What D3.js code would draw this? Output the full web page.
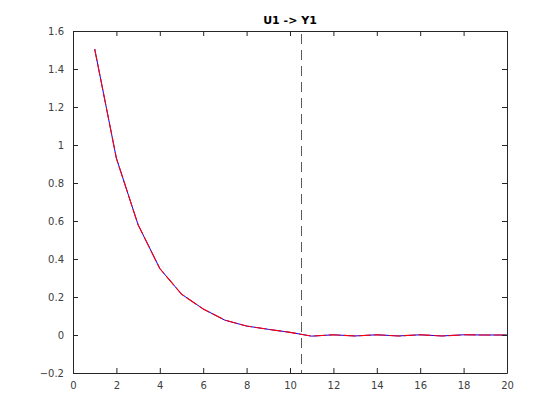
<!DOCTYPE html>
<html><head><meta charset="utf-8">
<script src="https://cdn.jsdelivr.net/npm/d3@7/dist/d3.min.js"></script>
<style>body{margin:0;background:#fff}svg{display:block}</style>
</head><body>
<script>
const steps = [1,2,3,4,5,6,7,8,9,10,11,12,13,14,15,16,17,18,19,20];
const responseA = [1.505,0.93,0.58,0.35,0.215,0.137,0.078,0.047,0.03,0.014,-0.006,0.001,-0.005,0.001,-0.005,0.001,-0.005,0.001,0.0,0.0];
const responseB = [1.505,0.93,0.58,0.35,0.215,0.137,0.078,0.047,0.03,0.014,-0.006,0.001,-0.005,0.001,-0.005,0.001,-0.005,0.001,0.0,0.0];
const markerX = [10.5];
const xTicks = [0,2,4,6,8,10,12,14,16,18,20];
const yTicks = [-0.2,0,0.2,0.4,0.6,0.8,1,1.2,1.4,1.6];
const title = "U1 -> Y1";

const W=560,H=420, L=73,R=507,T=31,B=373;
const svg=d3.select("body").append("svg").attr("width",W).attr("height",H);
const x=d3.scaleLinear().domain([0,20]).range([L,R]);
const y=d3.scaleLinear().domain([-0.2,1.6]).range([B,T]);
const ax="#262626", font="DejaVu Sans, Helvetica, Arial, sans-serif";

// lines
const line=d3.line().x((d,i)=>x(steps[i])).y(d=>y(d));
svg.append("path").datum(responseA).attr("d",line).attr("fill","none").attr("stroke","#0000ff").attr("stroke-width",1);
svg.append("path").datum(responseB).attr("d",line).attr("fill","none").attr("stroke","#ff0000").attr("stroke-width",1.1).attr("stroke-dasharray","12,3");

// marker line
svg.selectAll(".mk").data(markerX).enter().append("line")
 .attr("x1",d=>Math.round(x(d))+0.5).attr("x2",d=>Math.round(x(d))+0.5).attr("y1",T+3).attr("y2",B)
 .attr("stroke","#5a5a5a").attr("stroke-width",1).attr("stroke-dasharray","10,6");

// axes
const gx=svg.append("g").attr("transform",`translate(0,${B})`)
 .call(d3.axisBottom(x).tickValues(xTicks).tickSizeInner(-5).tickSizeOuter(0).tickPadding(9).tickFormat(d3.format("d")));
const gxt=svg.append("g").attr("transform",`translate(0,${T})`)
 .call(d3.axisTop(x).tickValues(xTicks).tickSizeInner(-5).tickSizeOuter(0).tickFormat(""));
const gy=svg.append("g").attr("transform",`translate(${L},0)`)
 .call(d3.axisLeft(y).tickValues(yTicks).tickSizeInner(-5).tickSizeOuter(0).tickPadding(9).tickFormat(d=>d3.format("~g")(+d.toFixed(1))));
const gyr=svg.append("g").attr("transform",`translate(${R},0)`)
 .call(d3.axisRight(y).tickValues(yTicks).tickSizeInner(-5).tickSizeOuter(0).tickFormat(""));
[gx,gxt,gy,gyr].forEach(g=>{
  g.selectAll("path,line").attr("stroke",ax);
  g.selectAll("text").attr("fill","#404040").style("font-family",font).style("font-size","10px");
});
svg.selectAll(".tick text").filter(function(){return this.textContent==="";}).remove();

svg.append("text").attr("x",(L+R)/2).attr("y",T-7).attr("text-anchor","middle")
 .style("font-family",font).style("font-size","11px").style("font-weight","bold").attr("fill","#000").text(title);
</script>
</body></html>
